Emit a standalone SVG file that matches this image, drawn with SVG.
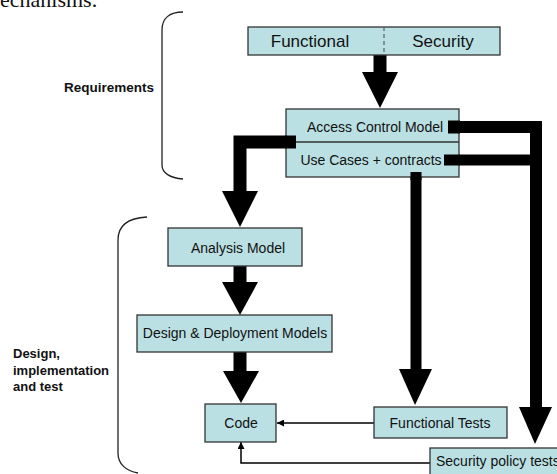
<svg xmlns="http://www.w3.org/2000/svg" width="557" height="474" viewBox="0 0 557 474">
<style>
.box{fill:#bbe0e3;stroke:#333;stroke-width:1.3}
.t{font-family:"Liberation Sans",Arial,sans-serif;font-size:14px;fill:#111}
.big{font-size:17px}
.lbl{font-family:"Liberation Sans",Arial,sans-serif;font-size:13.5px;font-weight:bold;fill:#111}
.thick{fill:none;stroke:#000;stroke-width:13;stroke-linejoin:miter}
.head{fill:#000}
.thin{fill:none;stroke:#000;stroke-width:1.5}
.brace{fill:none;stroke:#222;stroke-width:1.3}
</style>
<defs>
<marker id="ah" viewBox="0 0 10 10" refX="10" refY="5" markerWidth="7" markerHeight="7" markerUnits="userSpaceOnUse" orient="auto">
<path d="M0,0 L10,5 L0,10 z" fill="#000"/>
</marker>
</defs>
<rect width="557" height="474" fill="#fff"/>
<text x="0" y="7" font-family="'Liberation Serif','Times New Roman',serif" font-size="22" fill="#111">echanisms.</text>

<g id="brackets">
<path class="brace" d="M183,12 C170,12 162,18 162,30 L162,165 C162,173 170,178 183,179"/>
<path class="brace" d="M147,217 C128,218 118,226 118,240 L118,453 C118,464 126,471 138,473"/>
<text class="lbl" x="64" y="92">Requirements</text>
<text class="lbl" style="font-size:13px"><tspan x="13" y="358">Design,</tspan><tspan x="13" y="375">implementation</tspan><tspan x="13" y="391">and test</tspan></text>
</g>

<g id="connectors">
<path class="thick" d="M380,55 V73"/>
<polygon class="head" points="362,72 398,72 380,108"/>
<path class="thick" d="M296,142 H240 V192"/>
<polygon class="head" points="222,191 258,191 240,227"/>
<path class="thick" d="M240,266 V283"/>
<polygon class="head" points="222,282 258,282 240,315"/>
<path class="thick" d="M240,352 V372"/>
<polygon class="head" points="223,371 259,371 241,403"/>
<path class="thick" style="stroke-width:11" d="M416,172 V370"/>
<polygon class="head" points="399,369 432,369 415,405"/>
<path class="thick" style="stroke-width:12" d="M448,127 H536 V408"/>
<path class="thick" style="stroke-width:11" d="M444,160 H536"/>
<polygon class="head" points="519,407 552,407 535,444"/>
<path class="thin" d="M374,423 H277" marker-end="url(#ah)"/>
<path class="thin" d="M430,463 H241 V442" marker-end="url(#ah)"/>
</g>

<g id="requirements-box">
<rect class="box" x="248" y="27" width="252" height="28"/>
<line x1="384" y1="27" x2="384" y2="55" stroke="#666" stroke-width="1.3" stroke-dasharray="4,3"/>
<text class="t big" x="310" y="47" text-anchor="middle">Functional</text>
<text class="t big" x="443" y="47" text-anchor="middle">Security</text>
</g>

<g id="access-control">
<rect class="box" x="286" y="109" width="173" height="68"/>
<line x1="286" y1="142" x2="459" y2="142" stroke="#333" stroke-width="1.3"/>
<text class="t" x="375" y="132" text-anchor="middle">Access Control Model</text>
<text class="t" x="371" y="165" text-anchor="middle">Use Cases + contracts</text>
</g>
<path class="thick" d="M448,127 H460"/>
<path class="thick" style="stroke-width:11" d="M444,160 H460"/>
<path class="thick" style="stroke-width:11" d="M416,172 V180"/>
<path class="thick" d="M296,142 H285"/>

<g id="analysis-model">
<rect class="box" x="168" y="228" width="134" height="38"/>
<text class="t" x="238" y="253" text-anchor="middle">Analysis Model</text>
</g>

<g id="design-models">
<rect class="box" x="137" y="315" width="195" height="37"/>
<text class="t" x="235" y="338" text-anchor="middle">Design &amp; Deployment Models</text>
</g>

<g id="code">
<rect class="box" x="205" y="404" width="71" height="38"/>
<text class="t" x="241" y="428" text-anchor="middle">Code</text>
</g>

<g id="functional-tests">
<rect class="box" x="374" y="407" width="133" height="31"/>
<text class="t" x="440" y="428" text-anchor="middle">Functional Tests</text>
</g>

<g id="security-tests">
<rect class="box" x="430" y="448" width="140" height="30"/>
<text class="t" x="436" y="466">Security policy tests</text>
</g>
</svg>
